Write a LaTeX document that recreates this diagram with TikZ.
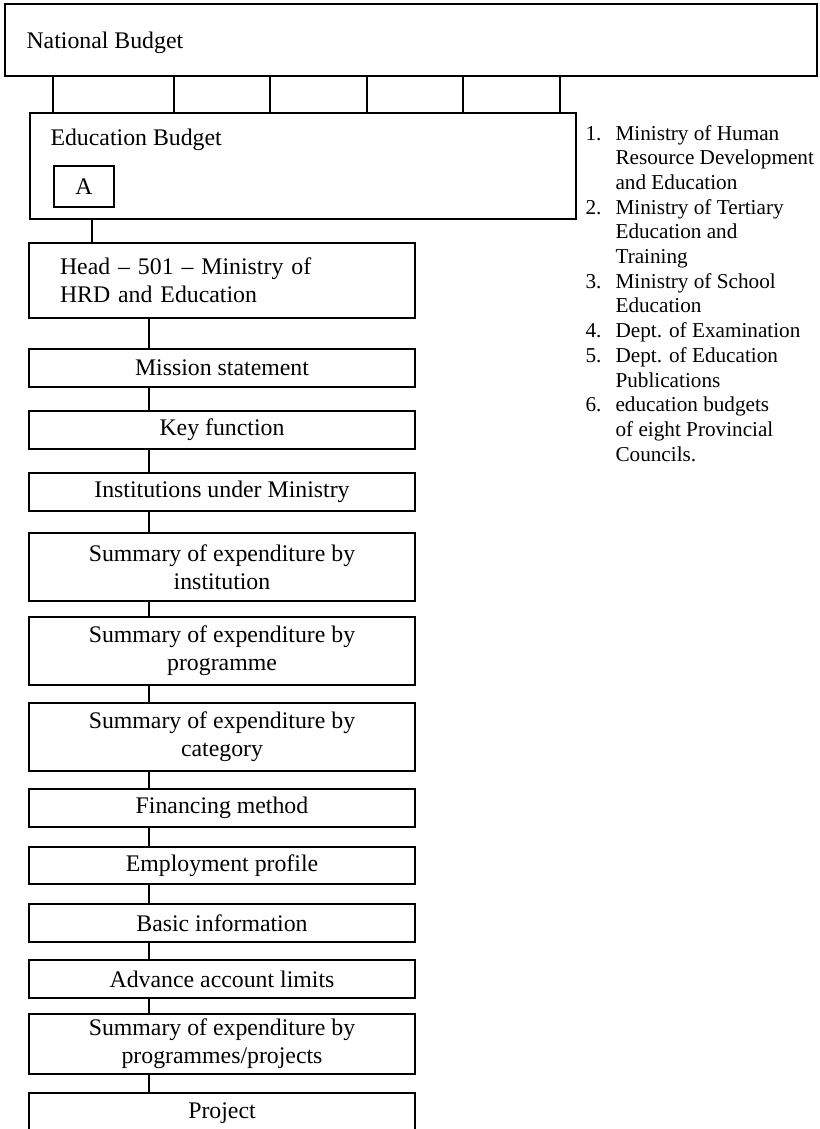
\documentclass[tikz,border=0pt]{standalone}
\usepackage{fontspec}
\setmainfont{Liberation Serif}
\newcommand\chartfont{\fontsize{23.8pt}{28pt}\selectfont}
\newcommand\listfont{\fontsize{21.2pt}{24.7pt}\selectfont}
\begin{document}
\begin{tikzpicture}[x=1pt,y=-1pt,line width=1.1pt,
  chartbox/.style={draw, minimum width=386pt, inner sep=0pt, align=center, font=\chartfont},
  plaintxt/.style={anchor=base west, inner sep=0pt, font=\chartfont},
  listtxt/.style={anchor=base west, inner sep=0pt, font=\listfont}]
\useasboundingbox (0,0) rectangle (819,1129);

% top boxes
\node[draw, minimum width=812pt, minimum height=72pt, inner sep=0pt] (nat) at (411,40) {};
\node[plaintxt] (natt) at (26,49) {National Budget};
\node[draw, minimum width=546pt, minimum height=106pt, inner sep=0pt] (edu) at (303,166) {};
\node[plaintxt] (edut) at (50,146) {Education Budget};
\node[draw, minimum width=60pt, minimum height=41pt, inner sep=0pt, font=\chartfont] (a) at (84,186.5) {A};

\foreach \x [count=\i] in {53,174,270,367,463,560} {
  \coordinate (t\i) at (\x,0);
  \draw (nat.south -| t\i) -- (edu.north -| t\i);
}

% head
\node[draw, text width=324pt, inner xsep=31pt, inner ysep=0pt, minimum height=75pt,
      align=left, font=\chartfont] (head) at (222,280.5) {Head – 501 – Ministry of\\HRD and Education};
\coordinate (eh) at (92,0);
\draw (edu.south -| eh) -- (head.north -| eh);

% chain
\node[chartbox, minimum height=38pt] (mis)   at (222,368)   {Mission statement};
\node[chartbox, minimum height=38pt] (key)   at (222,430)   {Key function};
\node[chartbox, minimum height=38pt] (inst)  at (222,492)   {Institutions under Ministry};
\node[chartbox, minimum height=68pt] (sinst) at (222,567)   {Summary of expenditure by\\institution};
\node[chartbox, minimum height=68pt] (sprog) at (222,651)   {Summary of expenditure by\\programme};
\node[chartbox, minimum height=68pt] (scat)  at (222,737)   {Summary of expenditure by\\category};
\node[chartbox, minimum height=38pt] (fin)   at (222,808)   {Financing method};
\node[chartbox, minimum height=37pt] (emp)   at (222,865.5) {Employment profile};
\node[chartbox, minimum height=38pt] (basic) at (222,923)   {Basic information};
\node[chartbox, minimum height=38pt] (adv)   at (222,979)   {Advance account limits};
\node[chartbox, minimum height=60pt] (spp)   at (222,1044)  {Summary of expenditure by\\programmes/projects};
\node[chartbox, minimum height=40pt] (proj)  at (222,1113)  {Project};

\coordinate (sp) at (149,0);
\foreach \u/\v in {head/mis,mis/key,key/inst,inst/sinst,sinst/sprog,sprog/scat,scat/fin,fin/emp,emp/basic,basic/adv,adv/spp,spp/proj}
  \draw (\u.south -| sp) -- (\v.north -| sp);

% list
\foreach \t [count=\i from 0] in {Ministry of Human,Resource Development,and Education,Ministry of Tertiary,Education and,Training,Ministry of School,Education,Dept. of Examination,Dept. of Education,Publications,education budgets,of eight Provincial,Councils.}
  \node[listtxt] (l\i) at (615,140+24.7*\i) {\t};
\foreach \n/\k in {1/0,2/3,3/6,4/8,5/9,6/11}
  \node[listtxt] (n\n) at (585,140+24.7*\k) {\n.};
\end{tikzpicture}
\end{document}
